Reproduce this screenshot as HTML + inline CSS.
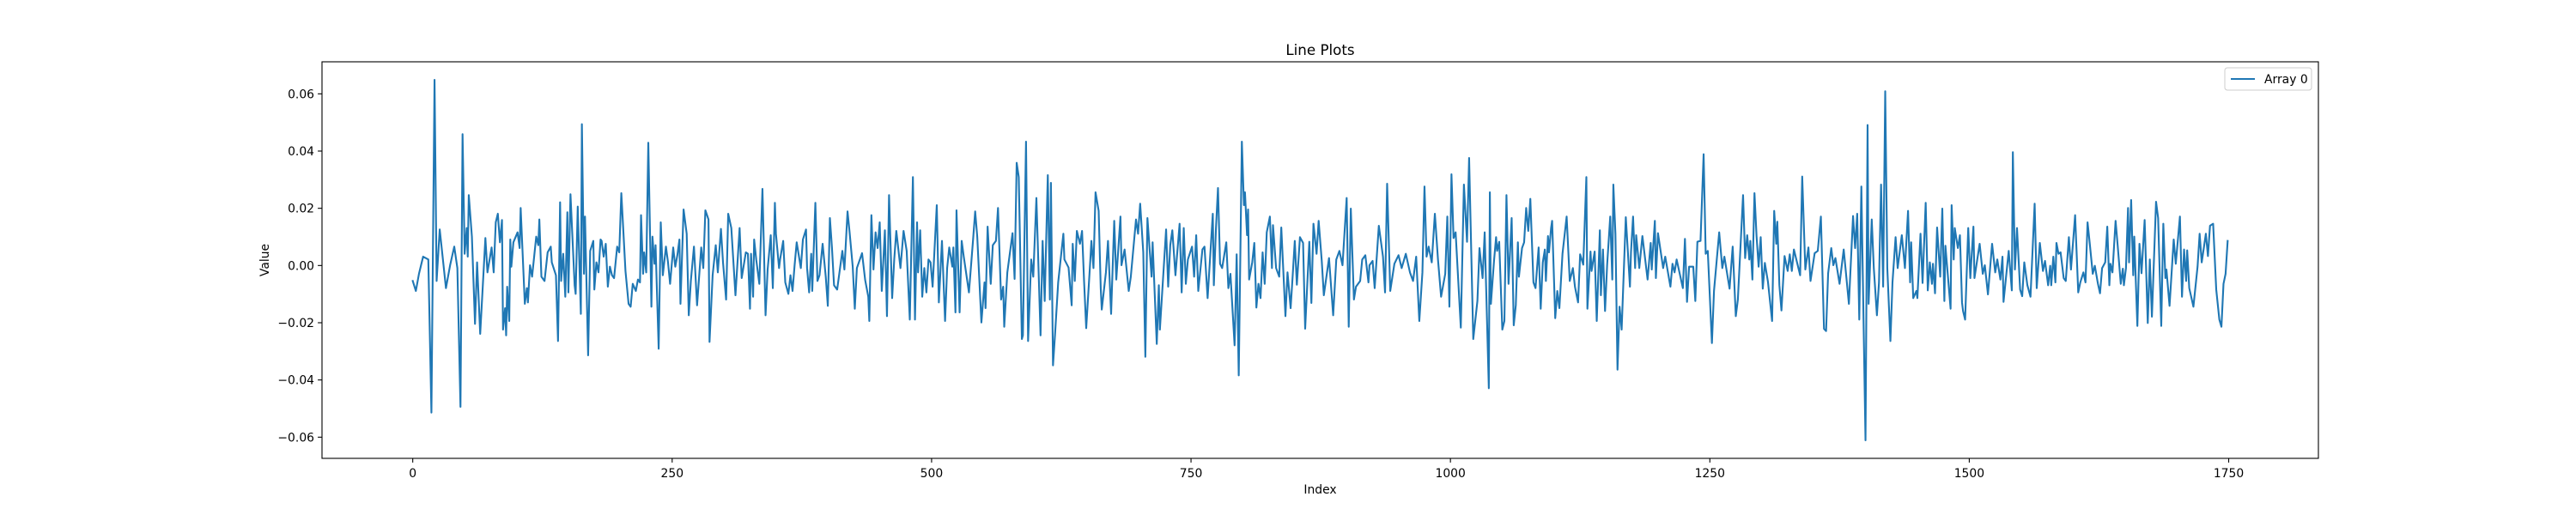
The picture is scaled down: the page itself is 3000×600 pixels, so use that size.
<!DOCTYPE html>
<html><head><meta charset="utf-8"><style>
html,body{margin:0;padding:0;background:#fff;}
svg{display:block;font-family:"DejaVu Sans","Liberation Sans",sans-serif;}
</style></head><body>
<svg id="chart" width="3000" height="600" viewBox="0 0 3000 600" xmlns="http://www.w3.org/2000/svg">
<rect x="0" y="0" width="3000" height="600" fill="#fff"/>
<text x="1537.5" y="64" text-anchor="middle" font-size="16.7" fill="#000">Line Plots</text>
<g id="xticks"></g>
<g id="yticks"></g>
<g id="series"></g>
<rect x="375" y="72" width="2325" height="462" fill="none" stroke="#000" stroke-width="1.1"/>
<text x="1537.5" y="575" text-anchor="middle" font-size="13.9" fill="#000">Index</text>
<text x="0" y="0" transform="translate(313,303) rotate(-90)" text-anchor="middle" font-size="13.9" fill="#000">Value</text>
<g>
<rect x="2591" y="79" width="101" height="26" rx="3" fill="#fff" fill-opacity="0.8" stroke="#ccc" stroke-width="1"/>
<line x1="2598" y1="92" x2="2626" y2="92" stroke="#1f77b4" stroke-width="2.1"/>
<text x="2637" y="97" font-size="13.9" fill="#000">Array 0</text>
</g>
</svg>
<script>
const xTicks = [0, 250, 500, 750, 1000, 1250, 1500, 1750];
const yTicks = [-0.06, -0.04, -0.02, 0.00, 0.02, 0.04, 0.06];
const yTickLabels = ["\u22120.06", "\u22120.04", "\u22120.02", "0.00", "0.02", "0.04", "0.06"];
const indices = [0,3,6,10,15,18,21,23,26,32,36,40,43,46,48,50,52,53,54,57,60,62,65,70,72,76,78,80,82,84,86,87,89,90,91,93,94,95,97,101,103,104,108,110,111,113,115,119,121,122,124,127,130,133,134,138,140,142,143,145,147,149,150,152,156,157,159,162,163,165,166,169,171,174,175,177,179,181,182,184,186,188,190,192,194,197,199,201,205,208,210,212,215,217,219,220,222,223,225,227,230,231,233,234,237,239,241,244,246,248,251,253,255,257,258,261,264,266,268,271,274,278,280,282,285,286,289,292,294,297,299,302,304,307,311,315,317,321,323,325,326,328,329,331,334,337,340,342,345,347,349,350,353,354,357,359,362,364,366,368,370,374,376,379,380,382,384,385,388,390,392,395,398,400,402,404,406,409,414,416,419,421,424,426,428,433,436,439,440,442,444,446,448,450,452,455,457,459,462,464,466,470,473,476,479,482,484,486,487,489,491,493,495,497,499,501,505,507,510,513,515,517,520,521,523,524,527,529,531,536,540,542,544,548,551,552,554,557,559,562,564,567,569,570,573,578,580,582,584,587,588,591,593,596,598,601,605,607,609,611,612,614,615,617,619,622,627,628,632,635,636,638,640,643,645,647,649,653,654,656,658,661,663,664,668,670,673,676,678,682,683,686,690,692,697,699,701,704,706,708,712,713,717,719,720,726,728,730,732,735,739,741,743,745,747,751,753,755,757,761,763,766,771,772,774,776,778,780,784,786,788,792,794,796,799,801,802,804,805,806,809,811,813,815,817,819,821,823,826,828,829,832,835,837,841,843,846,848,850,852,855,858,860,864,866,868,871,873,876,878,883,887,890,893,896,900,902,904,907,909,913,915,918,921,922,925,927,931,935,937,939,942,946,950,953,957,961,964,967,970,973,975,977,979,982,985,988,991,995,997,999,1001,1003,1005,1010,1013,1016,1018,1021,1022,1026,1028,1031,1033,1037,1038,1039,1042,1044,1045,1047,1050,1052,1054,1056,1059,1061,1063,1065,1066,1069,1071,1073,1075,1077,1080,1082,1085,1087,1089,1091,1092,1094,1095,1097,1098,1101,1103,1105,1108,1112,1115,1118,1120,1123,1125,1128,1131,1132,1135,1136,1139,1141,1144,1145,1147,1149,1151,1154,1156,1157,1159,1161,1163,1165,1169,1173,1174,1176,1178,1179,1182,1185,1190,1193,1194,1197,1198,1200,1205,1207,1212,1214,1216,1218,1224,1226,1228,1230,1234,1236,1238,1241,1244,1246,1248,1252,1254,1259,1262,1264,1269,1272,1275,1277,1282,1284,1286,1288,1289,1291,1293,1295,1297,1299,1301,1303,1306,1310,1312,1314,1315,1317,1319,1322,1325,1327,1329,1331,1334,1337,1339,1342,1345,1347,1351,1354,1357,1360,1362,1364,1367,1369,1371,1375,1379,1384,1388,1390,1392,1394,1396,1400,1402,1403,1406,1408,1411,1413,1415,1417,1419,1421,1424,1426,1429,1431,1435,1438,1441,1443,1444,1446,1449,1450,1453,1455,1458,1460,1462,1464,1465,1467,1469,1472,1474,1476,1477,1482,1483,1485,1486,1489,1491,1493,1494,1496,1499,1501,1504,1505,1510,1513,1515,1518,1522,1525,1527,1530,1532,1533,1538,1541,1542,1544,1546,1549,1551,1553,1556,1559,1563,1565,1568,1571,1573,1576,1578,1579,1581,1583,1584,1586,1588,1591,1593,1596,1598,1602,1605,1607,1610,1612,1614,1616,1619,1621,1624,1626,1628,1631,1633,1635,1636,1638,1641,1643,1646,1648,1649,1651,1653,1654,1656,1658,1659,1662,1664,1666,1669,1672,1674,1676,1680,1682,1685,1687,1689,1690,1693,1697,1699,1703,1705,1707,1709,1710,1712,1716,1720,1722,1724,1728,1730,1732,1735,1738,1741,1743,1745,1747,1749];
const values = [-5.4,-8.9,-2.9,3.1,2.1,-51.4,64.9,-5.4,12.6,-7.9,0.1,6.6,-0.9,-49.4,45.9,4.1,13.1,3.1,24.6,10.1,-20.4,1.1,-23.9,9.6,-2.4,6.3,-2.4,15.1,18.1,8.1,15.9,-22.4,-14.9,-24.4,-7.4,-19.4,9.1,-0.4,8.1,11.6,6.1,20.1,-13.4,-7.9,-12.9,0.1,-3.9,10.1,7.1,16.1,-3.9,-5.4,4.6,6.6,1.1,-3.4,-26.4,22.1,-5.4,4.1,-10.9,18.6,-9.4,24.9,-6.9,-9.9,20.6,-16.9,49.4,-2.9,17.1,-31.4,5.1,8.6,-8.4,1.1,-2.4,9.1,8.6,3.1,7.6,-7.4,-0.4,-3.4,-4.4,6.6,4.6,25.3,-1.9,-13.4,-14.4,-6.4,-8.9,-4.9,-5.9,17.6,-2.9,4.6,-2.4,42.9,-14.4,10.1,0.6,7.1,-29.1,15.1,-3.4,6.6,1.1,-6.4,6.3,-0.4,3.6,9.1,-13.4,19.6,11.1,-17.4,-5.4,6.6,-13.9,6.3,-0.9,19.3,16.1,-26.7,-3.4,7.1,-2.4,12.8,1.1,-11.9,18.1,13.1,-10.4,13.1,-4.4,4.6,4.1,-15.1,4.1,-10.9,9.1,2.1,-6.4,26.8,-17.4,-1.4,10.6,-7.9,21.9,11.1,-0.9,2.1,8.6,-5.9,-9.9,-3.4,-8.9,0.1,8.1,-0.9,9.1,12.6,-0.9,-9.4,4.1,-8.9,21.9,-5.4,-3.4,7.6,-3.9,-14.1,16.6,6.1,-6.9,-8.4,5.1,-1.4,18.9,11.6,-0.4,-15.1,-0.9,4.3,-5.1,-10.9,-19.4,17.6,-1.4,11.6,6.1,15.1,-8.9,12.3,-17.7,24.6,-11.4,2.1,12.1,-0.9,12.1,5.1,-18.9,30.9,-18.9,15.1,-2.4,12.3,-10.9,-0.9,-9.4,2.1,1.1,-7.4,21.1,-12.9,8.6,-19.4,-0.9,6.3,-0.4,6.3,-16.4,19.3,-16.4,8.6,3.1,-9.4,9.1,18.9,10.1,-19.9,-5.9,-14.9,13.6,-6.4,7.1,8.6,20.1,-11.9,-7.4,-21.4,-2.4,11.3,-4.7,35.9,30.9,-25.7,-24.4,43.3,-26.4,2.1,-3.9,23.6,-24.4,8.6,-12.4,17.1,31.6,-11.9,28.9,-34.9,-23.9,-5.9,11.1,2.1,-0.7,-13.9,7.6,-5.4,12.1,7.6,12.1,-5.9,-21.9,2.1,8.6,-0.9,25.6,19.1,-7.9,-15.4,-2.4,8.6,-16.9,15.6,-4.9,17.1,0.1,5.6,-8.9,-3.9,16.1,11.1,21.6,4.6,-31.9,16.6,-3.9,8.1,-27.4,-6.9,-22.4,12.6,-7.4,7.1,12.3,-3.4,14.6,-9.4,13.1,-6.4,2.1,6.6,-3.9,10.6,-8.9,5.6,6.6,-11.4,18.1,-6.9,12.6,27.1,0.6,-0.9,8.1,-7.9,-2.9,-27.9,3.9,-38.4,43.3,21.1,25.6,10.6,19.6,-4.9,1.1,7.9,-14.7,-6.4,-11.4,4.6,-6.4,11.6,17.1,-0.9,14.1,-0.9,-3.9,13.3,-17.7,-2.4,-14.9,-3.4,8.6,-6.7,9.9,7.9,-22.1,8.3,-13.1,14.6,4.1,15.6,1.6,-10.4,2.6,-17.4,2.1,5.1,0.1,23.6,-21.4,19.9,-11.9,-7.4,-5.4,2.1,3.6,-5.9,0.1,1.6,-7.9,13.9,3.1,-9.4,28.6,-8.9,0.6,3.6,-0.9,4.1,-2.4,-5.4,3.1,-19.4,-2.4,27.6,3.1,6.6,1.1,18.1,2.1,-10.9,-2.9,17.1,-14.4,31.9,9.6,11.6,-21.7,28.3,8.3,37.6,-9.9,-25.7,-12.4,6.1,-4.4,11.6,-42.9,25.6,-13.4,1.6,9.9,5.1,8.3,-22.4,-19.4,24.6,-6.4,16.6,-20.9,-13.9,8.1,-3.9,6.1,8.1,20.1,12.1,23.3,-5.9,-7.9,6.3,-15.1,1.1,5.6,-5.4,10.3,4.6,13.1,15.6,-18.4,-8.9,-14.9,4.1,17.1,-5.4,-0.9,-7.4,-12.9,3.9,0.3,30.9,-15.1,4.9,-1.9,4.9,-19.4,12.3,-10.4,5.6,-15.9,0.1,17.1,-4.9,28.3,11.1,-36.4,-14.4,-22.4,16.9,-7.4,4.6,17.1,-0.9,10.6,-0.9,10.3,-4.9,7.9,-1.4,15.6,-4.4,11.3,-0.9,3.1,-7.4,0.6,-2.4,2.1,-7.9,9.3,-12.7,-0.4,-0.4,-12.4,8.3,8.6,38.9,4.1,5.1,-27.1,-8.9,11.6,-0.9,3.1,-8.1,6.6,-17.7,-11.9,24.6,2.6,10.6,2.1,8.6,-4.9,25.3,10.3,-0.4,9.9,-8.1,0.9,-5.7,-19.4,19.1,7.6,15.3,-6.9,-15.7,3.3,-1.9,3.9,-1.9,5.6,1.1,-3.4,31.1,-1.4,6.3,-5.4,4.3,5.1,17.1,-22.1,-22.9,-2.7,6.1,0.1,2.6,-6.4,5.6,-13.4,17.3,6.1,18.1,-18.9,27.6,-61.1,49.1,-13.4,16.1,-0.9,-17.4,-5.9,28.3,-7.4,60.9,-0.9,-26.4,-5.9,9.9,-0.9,10.6,-0.9,19.1,-5.9,8.1,-11.4,-8.9,-11.4,11.1,-6.1,21.9,-8.7,1.1,-6.4,0.6,-9.7,13.3,-3.9,19.9,-12.4,6.9,-15.1,21.1,2.1,13.1,6.1,10.6,-12.9,-15.9,-18.9,13.1,-4.4,13.6,-4.4,7.6,-2.9,0.1,-10.1,7.6,-2.4,2.1,-4.9,3.1,-12.7,5.1,-8.7,39.6,-1.4,13.1,-8.4,-10.7,1.1,-6.9,-10.9,21.6,-7.9,7.9,-1.9,1.6,-6.9,-0.1,-6.9,3.1,-5.9,7.9,4.1,4.6,-4.4,-5.4,9.9,-1.4,17.6,-9.4,-5.9,-2.4,-5.9,15.1,8.1,-2.9,-0.1,-6.4,-9.7,-0.9,1.1,13.6,-6.9,0.6,-2.4,15.6,7.1,-6.4,-1.1,-6.9,-0.9,20.1,1.1,22.9,-3.4,10.1,-21.1,7.6,-2.7,15.9,-20.1,2.1,-17.9,22.3,16.6,-21.1,14.6,-4.4,-1.4,-14.1,9.1,0.6,17.1,-10.9,5.6,-5.4,5.3,-7.9,-14.4,-0.4,11.1,1.1,11.1,3.3,13.9,14.6,-8.4,-18.9,-21.4,-6.4,-2.9,8.6].map(v => v / 1000);

const NS = "http://www.w3.org/2000/svg";
const L = 375, R = 2700, T = 72, B = 534;
const xmin0 = Math.min(...indices), xmax0 = Math.max(...indices);
const xpad = (xmax0 - xmin0) * 0.05;
const ymin0 = Math.min(...values), ymax0 = Math.max(...values);
const ypad = (ymax0 - ymin0) * 0.05;
function xScale(v){ return L + (v - (xmin0 - xpad)) / ((xmax0 + xpad) - (xmin0 - xpad)) * (R - L); }
function yScale(v){ return B - (v - (ymin0 - ypad)) / ((ymax0 + ypad) - (ymin0 - ypad)) * (B - T); }

const xg = document.getElementById('xticks');
xTicks.forEach(t => {
  const x = xScale(t);
  const ln = document.createElementNS(NS, 'line');
  ln.setAttribute('x1', x); ln.setAttribute('x2', x);
  ln.setAttribute('y1', B); ln.setAttribute('y2', B + 4.9);
  ln.setAttribute('stroke', '#000'); ln.setAttribute('stroke-width', '1.1');
  
  
  xg.appendChild(ln);
  const tx = document.createElementNS(NS, 'text');
  tx.setAttribute('x', x); tx.setAttribute('y', B + 22);
  tx.setAttribute('text-anchor', 'middle'); tx.setAttribute('font-size', '13.9');
  tx.textContent = String(t);
  
  
  xg.appendChild(tx);
});
const yg = document.getElementById('yticks');
yTicks.forEach((t, i) => {
  const y = yScale(t);
  const ln = document.createElementNS(NS, 'line');
  ln.setAttribute('x1', L - 4.9); ln.setAttribute('x2', L);
  ln.setAttribute('y1', y); ln.setAttribute('y2', y);
  ln.setAttribute('stroke', '#000'); ln.setAttribute('stroke-width', '1.1');
  
  
  yg.appendChild(ln);
  const tx = document.createElementNS(NS, 'text');
  tx.setAttribute('x', L - 9); tx.setAttribute('y', y + 5);
  tx.setAttribute('text-anchor', 'end'); tx.setAttribute('font-size', '13.9');
  tx.textContent = yTickLabels[i];
  
  
  yg.appendChild(tx);
});
const sg = document.getElementById('series');
let d = '';
indices.forEach((ix, i) => { d += (i ? 'L' : 'M') + xScale(ix).toFixed(2) + ',' + yScale(values[i]).toFixed(2); });
const path = document.createElementNS(NS, 'path');
path.setAttribute('d', d);
path.setAttribute('fill', 'none');
path.setAttribute('stroke', '#1f77b4');
path.setAttribute('stroke-width', '2.1');
path.setAttribute('stroke-linejoin', 'round');
path.setAttribute('stroke-linecap', 'square');


sg.appendChild(path);
</script>
</body></html>
